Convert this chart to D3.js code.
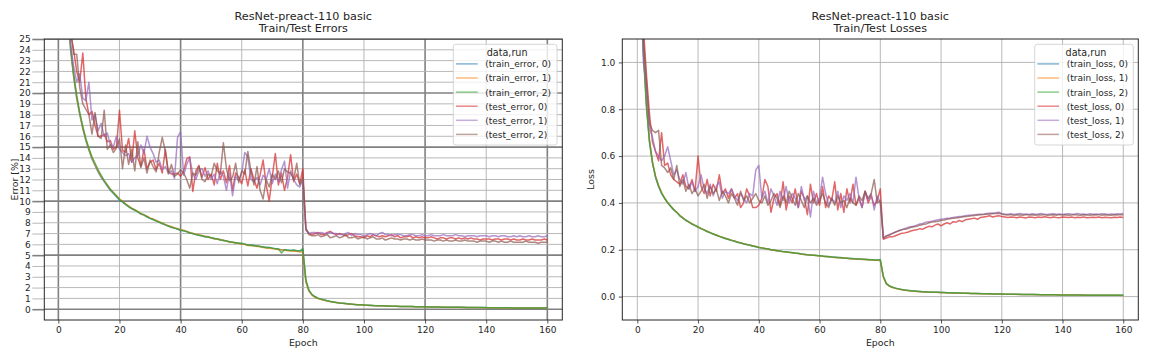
<!DOCTYPE html>
<html><head><meta charset="utf-8">
<script src="https://cdn.jsdelivr.net/npm/d3@7"></script>
<style>
body{margin:0;background:#fff;}
text{font-family:"DejaVu Sans",sans-serif;fill:#262626;}
</style>
</head><body>
<svg id="chart" width="1152" height="360"></svg>
<script>
// ---------- data ----------
const epochs = d3.range(1, 161);

const trainError0 = [55,38,29,24,21.5,19.5,18,16.7,15.6,14.7,
13.9,13.3,12.7,12.2,11.8,11.4,11.0,10.7,10.4,10.1,
9.9,9.7,9.5,9.3,9.15,9.0,8.8,8.7,8.55,8.4,
8.3,8.2,8.05,7.9,7.8,7.7,7.6,7.5,7.4,7.3,
7.25,7.15,7.05,7.0,6.9,6.85,6.8,6.7,6.65,6.6,
6.55,6.5,6.45,6.35,6.3,6.25,6.2,6.15,6.1,6.05,
6.0,5.95,5.95,5.9,5.85,5.8,5.75,5.7,5.7,5.65,
5.6,5.55,5.5,5.5,5.45,5.45,5.4,5.4,5.35,5.5,
2.6,1.7,1.35,1.15,1.0,0.92,0.85,0.78,0.72,0.66,
0.62,0.58,0.55,0.52,0.49,0.46,0.44,0.42,0.40,0.38,
0.37,0.35,0.34,0.33,0.32,0.31,0.30,0.29,0.28,0.27,
0.27,0.26,0.25,0.25,0.24,0.24,0.23,0.23,0.22,0.22,
0.21,0.21,0.2,0.2,0.19,0.19,0.18,0.18,0.18,0.17,
0.17,0.17,0.16,0.16,0.16,0.15,0.15,0.15,0.15,0.14,
0.14,0.14,0.14,0.13,0.13,0.13,0.13,0.12,0.12,0.12,
0.12,0.12,0.11,0.11,0.11,0.11,0.11,0.1,0.1,0.1];

const trainError1 = [56,38.5,29.3,24.2,21.7,19.6,18.1,16.8,15.7,14.8,
14.0,13.4,12.8,12.3,11.9,11.5,11.1,10.8,10.5,10.2,
10.0,9.75,9.55,9.35,9.2,9.05,8.85,8.7,8.6,8.45,
8.35,8.2,8.1,7.95,7.85,7.7,7.65,7.55,7.45,7.35,
7.3,7.2,7.1,7.0,6.95,6.9,6.8,6.75,6.7,6.6,
6.5,6.5,6.4,6.4,6.3,6.2,6.2,6.1,6.1,6.0,
6.0,5.9,5.9,5.85,5.8,5.8,5.7,5.65,5.65,5.6,
5.6,5.5,5.5,5.45,5.4,5.4,5.35,5.35,5.3,5.3,
2.5,1.65,1.3,1.1,0.98,0.9,0.83,0.76,0.7,0.65,
0.61,0.57,0.54,0.51,0.48,0.45,0.43,0.41,0.39,0.37,
0.36,0.35,0.33,0.32,0.31,0.3,0.29,0.29,0.28,0.27,
0.26,0.26,0.25,0.24,0.24,0.23,0.23,0.22,0.22,0.21,
0.21,0.2,0.2,0.19,0.19,0.18,0.18,0.18,0.17,0.17,
0.17,0.16,0.16,0.16,0.15,0.15,0.15,0.14,0.14,0.14,
0.14,0.13,0.13,0.13,0.13,0.12,0.12,0.12,0.12,0.11,
0.11,0.11,0.11,0.11,0.1,0.1,0.1,0.1,0.09,0.09];

const trainError2 = [54,37.5,28.8,24.3,21.8,19.8,18.2,16.9,15.8,14.9,
14.1,13.5,12.9,12.4,11.9,11.5,11.1,10.8,10.5,10.15,
9.95,9.7,9.5,9.3,9.2,9.0,8.85,8.75,8.55,8.4,
8.3,8.15,8.05,7.95,7.8,7.7,7.55,7.5,7.45,7.3,
7.25,7.2,7.05,7.0,6.9,6.85,6.8,6.7,6.7,6.6,
6.55,6.5,6.4,6.35,6.3,6.25,6.2,6.15,6.1,6.1,
6.0,5.95,5.9,5.9,5.85,5.8,5.75,5.7,5.7,5.65,
5.6,5.6,5.2,5.5,5.45,5.4,5.5,5.4,5.4,5.6,
2.7,1.75,1.35,1.15,1.02,0.93,0.85,0.78,0.72,0.67,
0.62,0.58,0.55,0.52,0.49,0.47,0.44,0.42,0.4,0.39,
0.37,0.36,0.34,0.33,0.32,0.31,0.3,0.29,0.28,0.28,
0.27,0.26,0.26,0.25,0.24,0.24,0.23,0.23,0.22,0.22,
0.21,0.21,0.2,0.2,0.2,0.19,0.19,0.18,0.18,0.18,
0.17,0.17,0.17,0.16,0.16,0.16,0.15,0.15,0.15,0.15,
0.14,0.14,0.14,0.14,0.13,0.13,0.13,0.13,0.12,0.12,
0.12,0.12,0.12,0.11,0.11,0.11,0.11,0.11,0.1,0.1];

const testError0 = [60,40,30,25.5,24.0,22.0,21.0,23.7,19.5,18.0,
18.3,17.0,16.0,16.0,16.2,15.5,15.6,14.8,15.0,18.4,
14.7,14.5,15.8,13.6,16.5,14.0,13.2,14.8,13.0,13.6,
13.8,12.9,13.5,12.6,14.8,12.7,12.5,12.5,12.6,12.3,
12.8,13.9,14.1,10.9,12.8,13.3,12.2,13.1,12.0,12.5,
11.5,13.5,12.0,12.8,11.7,13.3,11.0,12.6,12.2,11.6,
12.9,11.4,13.0,12.0,11.2,12.4,13.8,11.5,10.0,12.3,
14.4,11.5,12.6,11.0,12.2,14.3,11.8,12.5,11.6,13.0,
7.4,7.0,6.9,7.0,7.1,6.9,6.9,7.1,7.2,7.0,
6.9,7.0,6.9,6.8,6.9,7.0,6.8,6.7,6.7,6.6,
6.8,6.7,6.9,6.8,6.7,6.8,6.7,6.8,6.9,6.7,
6.8,6.6,6.7,6.7,6.8,6.6,6.7,6.6,6.7,6.6,
6.6,6.7,6.6,6.5,6.6,6.6,6.5,6.6,6.6,6.5,
6.6,6.5,6.6,6.5,6.6,6.5,6.5,6.4,6.5,6.5,
6.5,6.4,6.5,6.5,6.4,6.5,6.5,6.4,6.5,6.4,
6.4,6.5,6.4,6.4,6.5,6.4,6.4,6.4,6.5,6.4];

const testError1 = [58,42,29,24.5,22.5,21.0,21.8,19.5,19.3,21.0,
17.5,18.0,16.5,17.2,16.0,16.3,15.2,15.0,16.0,14.8,
14.5,14.2,14.4,13.6,14.0,14.2,15.2,14.4,16.0,15.0,
14.4,13.6,13.8,12.9,13.2,12.6,12.8,12.1,15.9,16.4,
12.4,13.4,14.0,12.5,12.0,12.8,13.0,12.3,12.8,12.0,
12.5,11.6,12.8,12.3,11.0,12.6,10.5,12.3,11.9,12.6,
14.5,14.1,12.0,11.8,12.2,11.5,12.4,12.0,13.0,11.6,
12.5,11.8,12.9,13.7,11.2,12.8,12.0,11.5,11.3,12.0,
7.3,7.0,7.1,7.1,7.0,7.1,7.0,7.0,7.1,7.0,
7.0,6.9,6.9,7.0,7.1,6.8,7.0,6.9,6.9,6.8,
6.9,7.0,6.9,6.8,7.0,7.1,6.9,6.9,6.8,6.9,
6.9,6.9,6.8,6.8,6.9,6.9,6.8,6.8,6.9,6.8,
6.8,6.9,6.8,6.8,6.8,6.9,6.8,6.8,6.8,6.9,
6.8,6.8,6.7,6.8,6.8,6.8,6.7,6.8,6.8,6.8,
6.7,6.8,6.8,6.7,6.8,6.8,6.7,6.7,6.8,6.7,
6.8,6.7,6.7,6.8,6.7,6.7,6.8,6.7,6.7,6.8];

const testError2 = [60,41,30,26.0,23.6,23.6,20.5,19.0,18.5,18.0,
16.2,18.2,16.0,15.8,18.4,14.8,15.2,14.5,14.9,15.8,
13.0,15.2,13.4,14.8,12.8,15.5,13.1,14.0,12.6,13.8,
13.2,12.7,14.5,15.9,14.6,12.5,13.4,12.3,12.5,12.9,
12.6,12.0,11.2,12.6,12.4,13.2,12.0,11.8,12.5,12.3,
13.5,12.8,12.5,15.4,13.0,11.9,12.2,13.5,11.7,12.8,
12.5,14.6,12.8,11.5,13.2,11.0,10.2,12.0,11.3,12.5,
12.0,12.8,11.7,13.0,12.7,12.6,12.0,13.5,11.5,12.2,
7.5,6.9,6.8,6.8,6.9,6.7,6.8,6.9,6.6,6.7,
6.8,6.6,6.7,6.9,6.6,6.6,6.7,6.5,6.6,6.7,
6.5,6.6,6.7,6.5,6.5,6.6,6.4,6.5,6.6,6.5,
6.5,6.4,6.5,6.5,6.4,6.5,6.4,6.4,6.5,6.4,
6.4,6.4,6.3,6.4,6.4,6.3,6.4,6.3,6.3,6.4,
6.3,6.3,6.4,6.3,6.3,6.3,6.2,6.3,6.3,6.3,
6.2,6.3,6.3,6.2,6.3,6.2,6.2,6.3,6.2,6.2,
6.2,6.2,6.3,6.2,6.2,6.2,6.1,6.2,6.2,6.2];

const trainLoss0 = [1.6,1.05,0.82,0.66,0.57,0.51,0.47,0.44,0.42,0.40,
0.385,0.37,0.36,0.345,0.335,0.325,0.318,0.31,0.303,0.297,
0.29,0.284,0.278,0.272,0.267,0.262,0.257,0.252,0.248,0.244,
0.24,0.236,0.232,0.229,0.225,0.222,0.219,0.216,0.213,0.21,
0.207,0.205,0.203,0.2,0.198,0.196,0.194,0.192,0.19,0.189,
0.187,0.185,0.184,0.182,0.18,0.179,0.178,0.176,0.175,0.174,
0.172,0.171,0.17,0.169,0.168,0.167,0.166,0.165,0.164,0.163,
0.162,0.161,0.16,0.159,0.158,0.158,0.157,0.156,0.156,0.155,
0.085,0.055,0.045,0.04,0.036,0.033,0.03,0.028,0.026,0.025,
0.024,0.023,0.022,0.021,0.02,0.019,0.019,0.018,0.018,0.017,
0.017,0.016,0.016,0.015,0.015,0.015,0.014,0.014,0.014,0.013,
0.013,0.013,0.012,0.012,0.012,0.012,0.011,0.011,0.011,0.011,
0.01,0.01,0.01,0.01,0.01,0.009,0.009,0.009,0.009,0.009,
0.009,0.008,0.008,0.008,0.008,0.008,0.008,0.008,0.007,0.007,
0.007,0.007,0.007,0.007,0.007,0.007,0.006,0.006,0.006,0.006,
0.006,0.006,0.006,0.006,0.006,0.006,0.006,0.006,0.006,0.006];

const trainLoss1 = [1.62,1.07,0.83,0.67,0.575,0.515,0.475,0.445,0.42,0.402,
0.386,0.372,0.36,0.347,0.336,0.327,0.318,0.311,0.304,0.296,
0.291,0.285,0.279,0.273,0.268,0.262,0.258,0.253,0.249,0.245,
0.241,0.237,0.233,0.229,0.226,0.223,0.219,0.217,0.214,0.211,
0.208,0.205,0.202,0.2,0.198,0.197,0.194,0.191,0.19,0.188,
0.187,0.186,0.184,0.181,0.18,0.179,0.177,0.176,0.175,0.173,
0.172,0.171,0.17,0.168,0.167,0.166,0.165,0.165,0.164,0.162,
0.161,0.16,0.16,0.158,0.158,0.157,0.156,0.155,0.155,0.154,
0.083,0.054,0.044,0.039,0.035,0.032,0.029,0.027,0.026,0.024,
0.023,0.022,0.021,0.02,0.02,0.019,0.018,0.018,0.017,0.017,
0.016,0.016,0.015,0.015,0.015,0.014,0.014,0.014,0.013,0.013,
0.013,0.012,0.012,0.012,0.012,0.011,0.011,0.011,0.011,0.01,
0.01,0.01,0.01,0.01,0.009,0.009,0.009,0.009,0.009,0.009,
0.008,0.008,0.008,0.008,0.008,0.008,0.008,0.007,0.007,0.007,
0.007,0.007,0.007,0.007,0.007,0.006,0.006,0.006,0.006,0.006,
0.006,0.006,0.006,0.006,0.006,0.006,0.006,0.006,0.005,0.005];

const trainLoss2 = [1.58,1.04,0.81,0.665,0.572,0.512,0.472,0.442,0.419,0.401,
0.387,0.371,0.359,0.346,0.336,0.326,0.319,0.31,0.304,0.298,
0.29,0.285,0.278,0.273,0.267,0.263,0.257,0.253,0.248,0.245,
0.24,0.237,0.232,0.23,0.226,0.222,0.22,0.216,0.214,0.21,
0.208,0.205,0.204,0.2,0.199,0.196,0.195,0.192,0.191,0.189,
0.188,0.185,0.185,0.182,0.181,0.179,0.178,0.177,0.175,0.174,
0.173,0.171,0.171,0.169,0.168,0.167,0.167,0.165,0.164,0.163,
0.163,0.16,0.16,0.159,0.159,0.157,0.157,0.156,0.155,0.158,
0.087,0.056,0.046,0.04,0.036,0.033,0.03,0.028,0.027,0.025,
0.024,0.023,0.022,0.021,0.02,0.02,0.019,0.018,0.018,0.017,
0.017,0.016,0.016,0.016,0.015,0.015,0.014,0.014,0.014,0.013,
0.013,0.013,0.013,0.012,0.012,0.012,0.011,0.011,0.011,0.011,
0.01,0.01,0.01,0.01,0.01,0.01,0.009,0.009,0.009,0.009,
0.009,0.009,0.008,0.008,0.008,0.008,0.008,0.008,0.007,0.007,
0.007,0.007,0.007,0.007,0.007,0.007,0.007,0.006,0.006,0.006,
0.006,0.006,0.006,0.006,0.006,0.006,0.006,0.006,0.006,0.006];

const testLoss0 = [1.5,1.15,0.95,0.78,0.66,0.62,0.58,0.70,0.56,0.57,
0.52,0.50,0.49,0.48,0.52,0.47,0.46,0.50,0.45,0.60,
0.47,0.44,0.50,0.43,0.48,0.45,0.52,0.44,0.46,0.42,
0.46,0.42,0.44,0.38,0.40,0.46,0.43,0.38,0.38,0.39,
0.42,0.50,0.47,0.36,0.42,0.44,0.39,0.49,0.37,0.43,
0.40,0.46,0.38,0.45,0.42,0.35,0.48,0.40,0.44,0.39,
0.47,0.38,0.43,0.41,0.49,0.37,0.44,0.36,0.46,0.40,
0.48,0.39,0.42,0.38,0.45,0.40,0.43,0.39,0.41,0.46,
0.245,0.25,0.255,0.255,0.26,0.265,0.27,0.272,0.275,0.28,
0.283,0.285,0.29,0.288,0.295,0.3,0.298,0.305,0.31,0.302,
0.31,0.315,0.31,0.32,0.318,0.325,0.32,0.328,0.33,0.332,
0.335,0.33,0.338,0.34,0.342,0.345,0.34,0.343,0.345,0.342,
0.34,0.338,0.34,0.339,0.337,0.34,0.338,0.336,0.34,0.339,
0.337,0.34,0.338,0.341,0.339,0.337,0.34,0.338,0.337,0.34,
0.339,0.338,0.34,0.337,0.339,0.338,0.34,0.337,0.338,0.339,
0.338,0.34,0.337,0.339,0.338,0.337,0.339,0.338,0.34,0.338];

const testLoss1 = [1.4,1.0,0.9,0.72,0.68,0.62,0.60,0.58,0.60,0.64,
0.58,0.52,0.54,0.50,0.48,0.53,0.46,0.49,0.45,0.47,
0.52,0.46,0.44,0.48,0.43,0.47,0.49,0.42,0.45,0.44,
0.46,0.43,0.41,0.44,0.42,0.40,0.44,0.43,0.54,0.56,
0.42,0.45,0.40,0.46,0.43,0.39,0.45,0.41,0.47,0.40,
0.44,0.42,0.38,0.47,0.41,0.43,0.34,0.45,0.40,0.42,
0.51,0.44,0.39,0.42,0.40,0.45,0.38,0.43,0.41,0.44,
0.40,0.51,0.42,0.38,0.45,0.41,0.44,0.37,0.43,0.40,
0.25,0.258,0.265,0.27,0.275,0.282,0.285,0.29,0.295,0.298,
0.30,0.305,0.31,0.312,0.318,0.32,0.322,0.325,0.328,0.33,
0.332,0.335,0.336,0.338,0.34,0.342,0.343,0.345,0.347,0.348,
0.35,0.351,0.352,0.353,0.355,0.356,0.357,0.358,0.36,0.355,
0.353,0.352,0.354,0.351,0.353,0.355,0.352,0.353,0.351,0.354,
0.352,0.353,0.355,0.352,0.351,0.353,0.354,0.352,0.353,0.351,
0.353,0.354,0.352,0.353,0.355,0.352,0.353,0.351,0.354,0.352,
0.353,0.352,0.354,0.353,0.351,0.353,0.352,0.354,0.353,0.355];

const testLoss2 = [1.5,1.1,0.92,0.74,0.71,0.70,0.71,0.56,0.55,0.53,
0.55,0.50,0.56,0.47,0.50,0.45,0.48,0.44,0.46,0.43,
0.45,0.48,0.42,0.47,0.44,0.46,0.41,0.45,0.43,0.40,
0.44,0.42,0.39,0.45,0.41,0.43,0.40,0.42,0.44,0.41,
0.40,0.43,0.39,0.41,0.44,0.42,0.38,0.43,0.40,0.45,
0.42,0.39,0.44,0.41,0.38,0.43,0.40,0.42,0.39,0.41,
0.44,0.40,0.38,0.42,0.39,0.43,0.40,0.41,0.38,0.42,
0.40,0.39,0.43,0.41,0.45,0.42,0.44,0.50,0.40,0.41,
0.25,0.26,0.262,0.27,0.276,0.28,0.285,0.288,0.29,0.295,
0.298,0.30,0.305,0.308,0.31,0.315,0.318,0.32,0.322,0.325,
0.327,0.33,0.332,0.335,0.336,0.338,0.34,0.342,0.343,0.345,
0.346,0.348,0.349,0.35,0.352,0.353,0.354,0.355,0.356,0.352,
0.349,0.348,0.35,0.347,0.349,0.348,0.347,0.35,0.348,0.349,
0.347,0.349,0.348,0.35,0.347,0.348,0.349,0.347,0.35,0.348,
0.349,0.347,0.348,0.35,0.348,0.347,0.349,0.348,0.347,0.349,
0.348,0.35,0.347,0.349,0.348,0.347,0.349,0.348,0.35,0.348];

const colors = ["#1f77b4","#ff7f0e","#2ca02c","#d62728","#9467bd","#8c564b"];
const errorLabels = ["(train_error, 0)","(train_error, 1)","(train_error, 2)","(test_error, 0)","(test_error, 1)","(test_error, 2)"];
const lossLabels = ["(train_loss, 0)","(train_loss, 1)","(train_loss, 2)","(test_loss, 0)","(test_loss, 1)","(test_loss, 2)"];
const xTicks = [0,20,40,60,80,100,120,140,160];
const errorYTicks = d3.range(0, 26);
const lossYTicks = [0.0,0.2,0.4,0.6,0.8,1.0];

// ---------- drawing ----------
const svg = d3.select("#chart");
const FONT = '"DejaVu Sans",sans-serif';

function panel(cfg){
  const g = svg.append("g");
  const x = d3.scaleLinear().domain(cfg.xDomain).range([cfg.left, cfg.right]);
  const y = d3.scaleLinear().domain(cfg.yDomain).range([cfg.bottom, cfg.top]);
  const clipId = "clip" + cfg.id;
  svg.append("clipPath").attr("id", clipId).append("rect")
    .attr("x", cfg.left).attr("y", cfg.top)
    .attr("width", cfg.right - cfg.left).attr("height", cfg.bottom - cfg.top);

  const gridColor = d => "#b0b0b0";
  // grid
  const grid = g.append("g").attr("clip-path", `url(#${clipId})`);
  grid.selectAll(".gx").data(cfg.xTicks).join("line")
    .attr("x1", d => x(d)).attr("x2", d => x(d))
    .attr("y1", cfg.top).attr("y2", cfg.bottom)
    .attr("stroke", d => cfg.majorX(d) ? "#808080" : "#b0b0b0")
    .attr("stroke-width", d => cfg.majorX(d) ? 1.6 : 0.9);
  grid.selectAll(".gy").data(cfg.yTicks).join("line")
    .attr("y1", d => y(d)).attr("y2", d => y(d))
    .attr("x1", cfg.left).attr("x2", cfg.right)
    .attr("stroke", d => cfg.majorY(d) ? "#808080" : "#b0b0b0")
    .attr("stroke-width", d => cfg.majorY(d) ? 1.6 : 0.9);

  // lines
  const line = d3.line().x((d, i) => x(epochs[i])).y(d => y(d));
  const lg = g.append("g").attr("clip-path", `url(#${clipId})`);
  cfg.series.forEach((s, k) => {
    lg.append("path").datum(s).attr("d", line)
      .attr("fill", "none").attr("stroke", colors[k])
      .attr("stroke-width", 1.5).attr("stroke-opacity", 0.7)
      .attr("stroke-linejoin", "round");
  });

  // axes
  const xAxis = d3.axisBottom(x).tickValues(cfg.xTicks).tickSize(3.5).tickPadding(3.5).tickFormat(d3.format("d"));
  const yAxis = d3.axisLeft(y).tickValues(cfg.yTicks).tickSize(cfg.yTickLen).tickPadding(cfg.yPad).tickFormat(cfg.yFormat);
  const xa = g.append("g").attr("transform", `translate(0,${cfg.bottom})`).call(xAxis);
  const ya = g.append("g").attr("transform", `translate(${cfg.left},0)`).call(yAxis);
  [xa, ya].forEach(a => {
    a.select(".domain").remove();
    a.selectAll("text").attr("font-size", 9).attr("fill", "#262626").style("font-family", FONT);
    a.selectAll("line").attr("stroke", "#262626").attr("stroke-width", 0.8);
  });
  if (cfg.id === "L") {
    ya.selectAll(".tick line")
      .attr("stroke", d => cfg.majorY(d) ? "#808080" : "#b0b0b0")
      .attr("stroke-width", d => cfg.majorY(d) ? 1.6 : 0.9);
  }

  // frame
  g.append("rect").attr("x", cfg.left).attr("y", cfg.top)
    .attr("width", cfg.right - cfg.left).attr("height", cfg.bottom - cfg.top)
    .attr("fill", "none").attr("stroke", "#262626").attr("stroke-width", 1);

  // titles
  const cx = (cfg.left + cfg.right) / 2;
  g.append("text").attr("x", cx).attr("y", 19.5).attr("text-anchor", "middle").attr("font-size", 11.2).text(cfg.title1);
  g.append("text").attr("x", cx).attr("y", 32).attr("text-anchor", "middle").attr("font-size", 11.2).text(cfg.title2);
  g.append("text").attr("x", cx).attr("y", 346).attr("text-anchor", "middle").attr("font-size", 9.4).text("Epoch");
  g.append("text").attr("transform", `translate(${cfg.ylabelX},${(cfg.top + cfg.bottom) / 2}) rotate(-90)`)
    .attr("text-anchor", "middle").attr("font-size", 9.4).text(cfg.ylabel);

  // legend
  const L = cfg.legend;
  const lgd = g.append("g");
  lgd.append("rect").attr("x", L.x).attr("y", L.y).attr("width", L.w).attr("height", L.h)
    .attr("rx", 2.5).attr("fill", "#fff").attr("fill-opacity", 0.8)
    .attr("stroke", "#cccccc").attr("stroke-width", 0.8);
  lgd.append("text").attr("x", L.x + L.w / 2 + 2).attr("y", L.y + 12).attr("text-anchor", "middle")
    .attr("font-size", 9.6).text("data,run");
  cfg.labels.forEach((lab, k) => {
    const yy = L.y + 19.6 + k * 14.1;
    lgd.append("line").attr("x1", L.x + 2.7).attr("x2", L.x + 24.4).attr("y1", yy).attr("y2", yy)
      .attr("stroke", colors[k]).attr("stroke-width", 1.5).attr("stroke-opacity", 0.55);
    lgd.append("text").attr("x", L.x + 32).attr("y", yy + 3.4).attr("font-size", 9).text(lab);
  });
}

panel({
  id: "L", left: 44.3, right: 562.3, top: 39, bottom: 320,
  xDomain: [-4.6, 164.9], yDomain: [-1, 25],
  xTicks: xTicks, yTicks: errorYTicks,
  majorX: d => d % 40 === 0, majorY: d => d % 5 === 0,
  yTickLen: 12, yPad: 1.6, yFormat: d3.format("d"),
  series: [trainError0, trainError1, trainError2, testError0, testError1, testError2],
  labels: errorLabels,
  title1: "ResNet-preact-110 basic", title2: "Train/Test Errors",
  ylabel: "Error [%]", ylabelX: 17.5,
  legend: {x: 453.3, y: 44.3, w: 103.7, h: 100.7}
});

panel({
  id: "R", left: 622.3, right: 1138.3, top: 39, bottom: 320,
  xDomain: [-4.94, 164.94], yDomain: [-0.1, 1.1],
  xTicks: xTicks, yTicks: lossYTicks,
  majorX: d => false, majorY: d => false,
  yTickLen: 3.5, yPad: 3.5, yFormat: d3.format(".1f"),
  series: [trainLoss0, trainLoss1, trainLoss2, testLoss0, testLoss1, testLoss2],
  labels: lossLabels,
  title1: "ResNet-preact-110 basic", title2: "Train/Test Losses",
  ylabel: "Loss", ylabelX: 594,
  legend: {x: 1034.7, y: 44.3, w: 98.6, h: 100.7}
});
</script>
</body></html>
